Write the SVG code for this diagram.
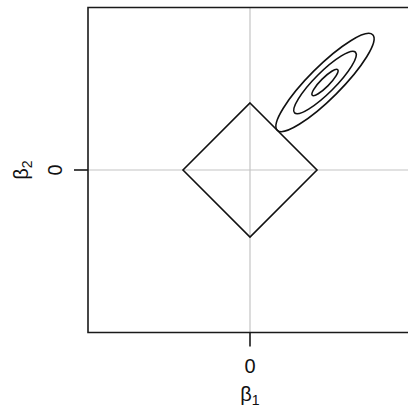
<svg xmlns="http://www.w3.org/2000/svg" width="408" height="408" viewBox="0 0 408 408">
<style>
.grid{stroke:#c4c4c4;stroke-width:1.2;fill:none}
.axis{stroke:#1a1a1a;stroke-width:1.6;fill:none}
.curve{stroke:#111;stroke-width:1.6;fill:none}
text{font-family:"Liberation Sans",Arial,sans-serif;font-size:20px;fill:#111}
</style>
<rect width="408" height="408" fill="#fff"/>
<g id="grid">
<line class="grid" x1="250" y1="7.5" x2="250" y2="332.5"/>
<line class="grid" x1="88" y1="170" x2="412" y2="170"/>
</g>
<g id="frame">
<polyline class="axis" points="412,7.5 88,7.5 88,332.5 412,332.5"/>
<line class="axis" x1="250" y1="332.5" x2="250" y2="346.5"/>
<line class="axis" x1="88" y1="170" x2="74" y2="170"/>
</g>
<g id="diamond">
<polygon class="curve" points="250,103 317,170 250,237 183,170"/>
</g>
<g id="contours" transform="rotate(-45 325 82.5)">
<ellipse class="curve" cx="325" cy="82.5" rx="67.5" ry="16"/>
<ellipse class="curve" cx="325" cy="82.5" rx="43" ry="10.3"/>
<ellipse class="curve" cx="325" cy="82.5" rx="18" ry="4.4"/>
</g>
<g id="labels">
<text x="250" y="373" text-anchor="middle">0</text>
<text x="250" y="401" text-anchor="middle">β<tspan font-size="14" dy="4">1</tspan></text>
<text transform="translate(61.5 170) rotate(-90)" text-anchor="middle">0</text>
<text transform="translate(28 170) rotate(-90)" text-anchor="middle">β<tspan font-size="14" dy="4">2</tspan></text>
</g>
</svg>
